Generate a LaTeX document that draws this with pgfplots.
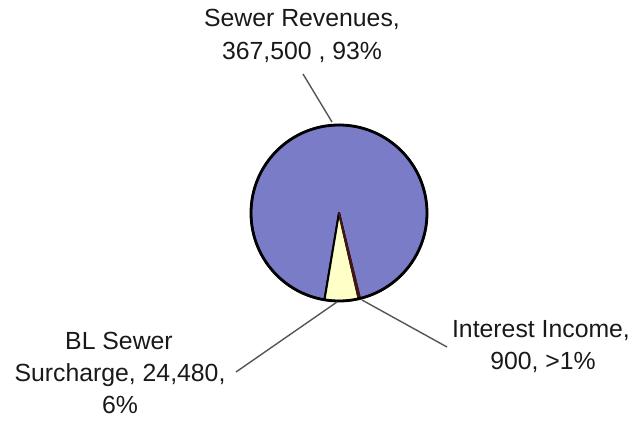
\documentclass[border=0pt]{standalone}
\usepackage{pgfplots}
\pgfplotsset{compat=1.18}
\usepackage{fontspec}
\setmainfont{Liberation Sans}
\definecolor{pieblue}{RGB}{122,124,200}
\definecolor{pieyellow}{RGB}{255,255,200}
\definecolor{piedark}{RGB}{95,30,20}
\definecolor{leader}{RGB}{85,85,85}
\definecolor{txt}{RGB}{25,25,25}
% data
\def\vSew{367500}
\def\vBL{24480}
\def\vInt{900}
\edef\tot{\fpeval{\vSew+\vBL+\vInt}}
\edef\aStart{260.5}
\edef\aA{\fpeval{\aStart+360*\vBL/\tot}}
\edef\aB{\fpeval{\aA+360*\vInt/\tot}}
\edef\aC{\fpeval{\aStart+360}}
\tikzset{lbl/.style={txt, anchor=base, inner sep=0pt, font=\fontsize{24.8bp}{33bp}\selectfont}}
\begin{document}
\begin{tikzpicture}
\begin{axis}[hide axis, scale only axis, width=637bp, height=422bp,
  xmin=0, xmax=637, ymin=0, ymax=422, clip=false]
\path (rel axis cs:0,0) rectangle (rel axis cs:1,1);
% slices
\filldraw[fill=pieblue, draw=black, line width=2bp, line join=round]
  (axis cs:339,209) -- ++(\aB:88bp) arc[start angle=\aB, end angle=\aC, radius=88bp] -- cycle;
\filldraw[fill=pieyellow, draw=black, line width=2bp, line join=round]
  (axis cs:339,209) -- ++(\aStart:88bp) arc[start angle=\aStart, end angle=\aA, radius=88bp] -- cycle;
\filldraw[fill=piedark, draw=piedark!70!black, line width=2bp, line join=round]
  (axis cs:339,209) -- ++(\aA:88bp) arc[start angle=\aA, end angle=\aB, radius=88bp] -- cycle;
\draw[black, line width=2.8bp] (axis cs:339,209) circle[radius=88bp];
% leader lines
\draw[leader, line width=1.4bp] (axis cs:303,348) -- (axis cs:332,300);
\draw[leader, line width=1.4bp] (axis cs:337,120) -- (axis cs:236,50);
\draw[leader, line width=1.4bp] (axis cs:362,122) -- (axis cs:447,75);
% labels
\node[lbl] at (axis cs:302,395) {Sewer Revenues,};
\node[lbl] at (axis cs:302,362) {367,500 , 93\%};
\node[lbl] at (axis cs:119,72) {BL Sewer};
\node[lbl] at (axis cs:120,40) {Surcharge, 24,480,};
\node[lbl] at (axis cs:120,9) {6\%};
\node[lbl] at (axis cs:541,84) {Interest Income,};
\node[lbl] at (axis cs:543,52) {900, >1\%};
\end{axis}
\end{tikzpicture}
\end{document}
